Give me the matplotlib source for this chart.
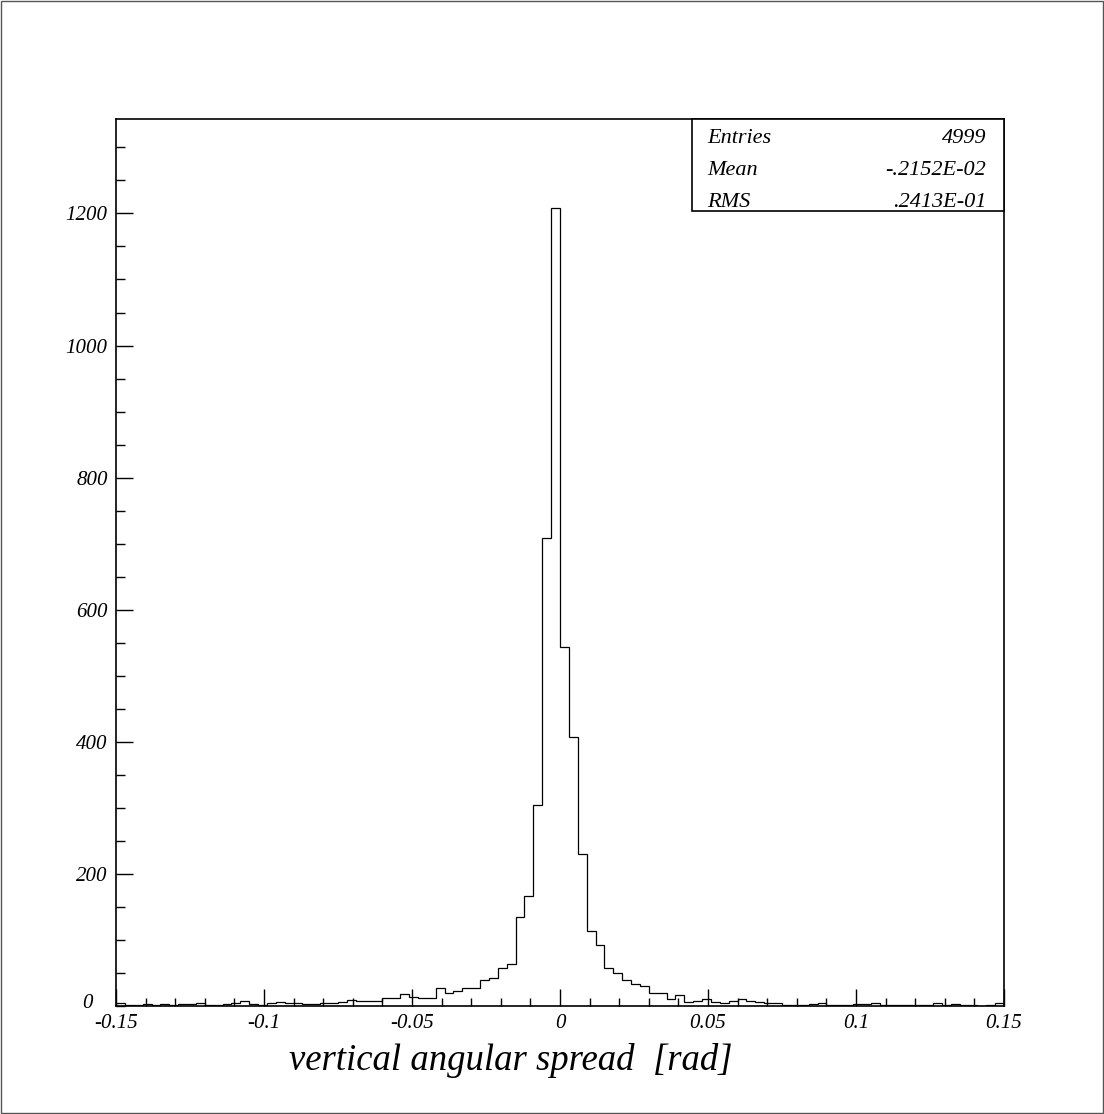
import numpy as np
import matplotlib
matplotlib.use("Agg")
import matplotlib.pyplot as plt
from matplotlib.patches import Rectangle
from matplotlib.ticker import MultipleLocator

# Histogram of vertical angular spread: 100 bins from -0.15 to 0.15 rad
x_min, x_max = -0.15, 0.15
n_bins = 100
counts = [
    4, 1, 2, 3, 1, 3, 2, 3, 3, 4,
    2, 1, 3, 5, 7, 3, 2, 5, 6, 4,
    5, 3, 3, 4, 5, 6, 9, 8, 7, 8,
    12, 12, 18, 14, 12, 12, 27, 20, 22, 27,
    27, 39, 43, 57, 63, 134, 166, 305, 709, 1209,
    543, 407, 230, 114, 93, 57, 50, 39, 34, 31,
    20, 20, 10, 17, 6, 8, 11, 6, 5, 7,
    11, 8, 6, 5, 4, 2, 2, 2, 3, 5,
    1, 1, 2, 3, 3, 4, 2, 2, 2, 1,
    1, 2, 4, 2, 3, 1, 1, 0, 1, 4,
]
y_max = 1343
x_ticks = [-0.15, -0.1, -0.05, 0, 0.05, 0.1, 0.15]
x_tick_labels = ["-0.15", "-0.1", "-0.05", "0", "0.05", "0.1", "0.15"]
y_ticks = [200, 400, 600, 800, 1000, 1200]
y_tick_labels = ["200", "400", "600", "800", "1000", "1200"]
stat_names = ["Entries", "Mean", "RMS"]
stat_values = ["4999", "-.2152E-02", ".2413E-01"]
x_title = "vertical angular spread  [rad]"

W, H = 1104, 1114
fig = plt.figure(figsize=(W / 100, H / 100), dpi=100)
font = dict(family="Liberation Serif", style="italic")

def fx(px):
    return px / W

def fy(py):
    return 1 - py / H

ax_l, ax_r, ax_t, ax_b = 116, 1004, 119, 1006
ax = fig.add_axes([fx(ax_l), fy(ax_b), fx(ax_r - ax_l), (ax_b - ax_t) / H])

edges = np.linspace(x_min, x_max, n_bins + 1)
ax.stairs(counts, edges, baseline=0, color="black", linewidth=0.9)

ax.set_xlim(x_min, x_max)
ax.set_ylim(0, y_max)

ax.set_xticks(x_ticks)
ax.set_xticklabels(x_tick_labels, fontsize=15, **font)
ax.xaxis.set_minor_locator(MultipleLocator(0.01))
ax.set_yticks(y_ticks)
ax.set_yticklabels(y_tick_labels, fontsize=15, **font)
ax.yaxis.set_minor_locator(MultipleLocator(50))

ax.tick_params(axis="both", which="both", direction="in", top=False, right=False,
               color="black", width=1.0)
ax.tick_params(axis="x", which="major", length=12, pad=6)
ax.tick_params(axis="x", which="minor", length=6)
ax.tick_params(axis="y", which="major", length=12, pad=6)
ax.tick_params(axis="y", which="minor", length=6.5)
for s in ax.spines.values():
    s.set_linewidth(1.2)
    s.set_color("black")

# zero label on the y axis, set off to the left as in the PAW layout
fig.text(fx(93), fy(1004), "0", ha="right", va="center", fontsize=15, **font)

# statistics box
bx0, bx1, by0, by1 = 692, 1004, 119, 211
fig.add_artist(Rectangle((fx(bx0), fy(by1)), fx(bx1 - bx0), (by1 - by0) / H,
                         transform=fig.transFigure, fill=True, facecolor="white",
                         edgecolor="black", linewidth=1.2, zorder=5))
for i, (name, val) in enumerate(zip(stat_names, stat_values)):
    yb = fy(143 + 32 * i)
    fig.text(fx(707), yb, name, ha="left", va="baseline", fontsize=16, zorder=6, **font)
    fig.text(fx(986), yb, val, ha="right", va="baseline", fontsize=16, zorder=6, **font)

# axis title
fig.text(fx(289), fy(1070), x_title, ha="left", va="baseline", fontsize=26.5, **font)

# page frame
fig.add_artist(Rectangle((0.0005, 0.0005), 0.999, 0.999, transform=fig.transFigure,
                         fill=False, edgecolor="#555555", linewidth=1.0))

fig.savefig("out.png", dpi=100)
